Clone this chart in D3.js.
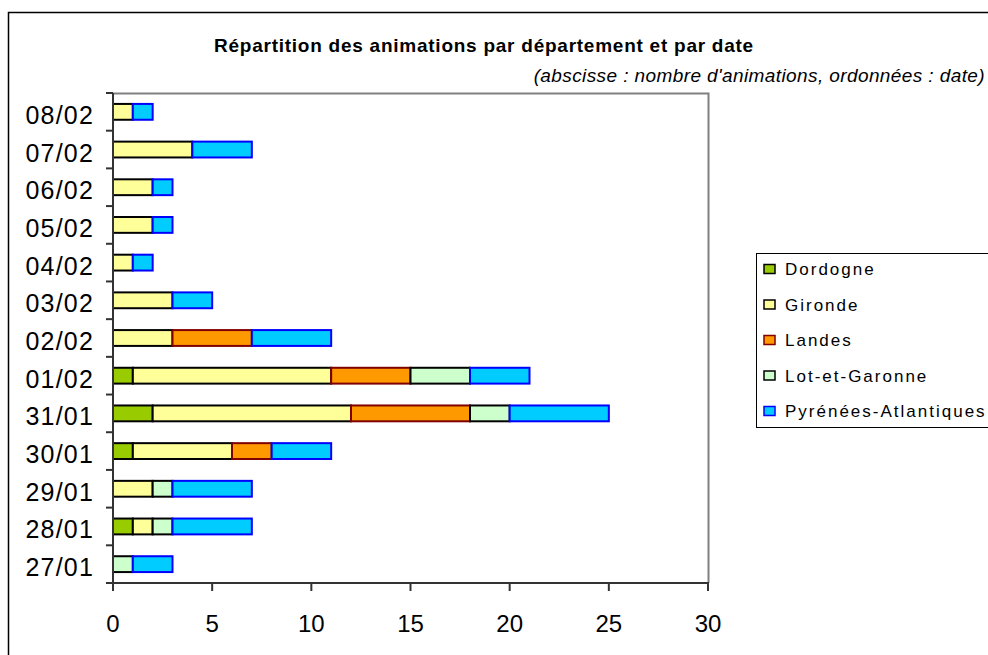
<!DOCTYPE html>
<html>
<head>
<meta charset="utf-8">
<script src="https://cdn.jsdelivr.net/npm/d3@7"></script>
<style>
  body { margin: 0; background: #fff; }
  text { font-family: "Liberation Sans", Arial, sans-serif; }
</style>
</head>
<body>
<div id="chart"></div>
<script>
const dates = ["27/01", "28/01", "29/01", "30/01", "31/01", "01/02", "02/02",
               "03/02", "04/02", "05/02", "06/02", "07/02", "08/02"];
const departments = ["Dordogne", "Gironde", "Landes", "Lot-et-Garonne", "Pyrénées-Atlantiques"];
const dordogne     = [0, 1, 0, 1, 2, 1, 0, 0, 0, 0, 0, 0, 0];
const gironde      = [0, 1, 2, 5, 10, 10, 3, 3, 1, 2, 2, 4, 1];
const landes       = [0, 0, 0, 2, 6, 4, 4, 0, 0, 0, 0, 0, 0];
const lotEtGaronne = [1, 1, 1, 0, 2, 3, 0, 0, 0, 0, 0, 0, 0];
const pyrenees     = [2, 4, 4, 3, 5, 3, 4, 2, 1, 1, 1, 3, 1];
const xTicks = [0, 5, 10, 15, 20, 25, 30];

const fills   = ["#99cc00", "#ffff99", "#ff9900", "#ccffcc", "#00ccff"];
const strokes = ["#000000", "#000000", "#800000", "#000000", "#0000ff"];

const width = 988, height = 655;
const plot = { left: 113, top: 93, right: 708, bottom: 583 };

const rows = dates.map((d, i) => ({
  date: d,
  "Dordogne": dordogne[i],
  "Gironde": gironde[i],
  "Landes": landes[i],
  "Lot-et-Garonne": lotEtGaronne[i],
  "Pyrénées-Atlantiques": pyrenees[i]
}));

const svg = d3.select("#chart")
  .append("svg")
  .attr("width", width)
  .attr("height", height);

// outer frame
svg.append("path")
  .attr("d", `M8.5,${height} V12.5 H${width}`)
  .attr("fill", "none")
  .attr("stroke", "#000")
  .attr("stroke-width", 1.5);

// titles
svg.append("text")
  .attr("x", 484)
  .attr("y", 52)
  .attr("text-anchor", "middle")
  .attr("font-size", "19px")
  .attr("font-weight", "bold")
  .attr("letter-spacing", "0.75px")
  .text("Répartition des animations par département et par date");

svg.append("text")
  .attr("x", 985)
  .attr("y", 82)
  .attr("text-anchor", "end")
  .attr("font-size", "19px")
  .attr("font-style", "italic")
  .attr("letter-spacing", "0.4px")
  .text("(abscisse : nombre d'animations, ordonnées : date)");

const x = d3.scaleLinear()
  .domain([0, 30])
  .range([plot.left, plot.right]);

const y = d3.scaleBand()
  .domain(dates.slice().reverse())
  .range([plot.top, plot.bottom])
  .paddingInner(0.58)
  .paddingOuter(0.29);

// plot area border (top and right)
svg.append("path")
  .attr("d", `M${plot.left},${plot.top + 0.5} H${plot.right + 0.5} V${plot.bottom}`)
  .attr("fill", "none")
  .attr("stroke", "#808080")
  .attr("stroke-width", 2);

// stacked bars
const stack = d3.stack().keys(departments);
const series = stack(rows);

const groups = svg.selectAll(".serie")
  .data(series)
  .enter()
  .append("g")
  .attr("class", "serie")
  .attr("fill", (d, i) => fills[i])
  .attr("stroke", (d, i) => strokes[i])
  .attr("stroke-width", 2);

groups.selectAll("rect")
  .data(d => d.filter(s => s[1] > s[0]))
  .enter()
  .append("rect")
  .attr("x", d => x(d[0]))
  .attr("y", d => y(d.data.date))
  .attr("width", d => x(d[1]) - x(d[0]))
  .attr("height", y.bandwidth());

// y axis
svg.append("line")
  .attr("x1", plot.left).attr("x2", plot.left)
  .attr("y1", plot.top).attr("y2", plot.bottom + 1)
  .attr("stroke", "#333").attr("stroke-width", 2);

svg.selectAll(".ytick")
  .data(d3.range(dates.length + 1))
  .enter()
  .append("line")
  .attr("x1", plot.left - 7).attr("x2", plot.left)
  .attr("y1", i => plot.top + i * (plot.bottom - plot.top) / dates.length)
  .attr("y2", i => plot.top + i * (plot.bottom - plot.top) / dates.length)
  .attr("stroke", "#333").attr("stroke-width", 2);

svg.selectAll(".ylabel")
  .data(dates)
  .enter()
  .append("text")
  .attr("x", 94)
  .attr("y", d => y(d) + y.bandwidth() / 2 + 3)
  .attr("dy", "0.36em")
  .attr("text-anchor", "end")
  .attr("font-size", "25px")
  .attr("letter-spacing", "1.2px")
  .text(d => d);

// x axis
svg.append("line")
  .attr("x1", plot.left - 7).attr("x2", plot.right + 1)
  .attr("y1", plot.bottom).attr("y2", plot.bottom)
  .attr("stroke", "#333").attr("stroke-width", 2);

svg.selectAll(".xtick")
  .data(xTicks)
  .enter()
  .append("line")
  .attr("x1", d => x(d)).attr("x2", d => x(d))
  .attr("y1", plot.bottom).attr("y2", plot.bottom + 8)
  .attr("stroke", "#333").attr("stroke-width", 2);

svg.selectAll(".xlabel")
  .data(xTicks)
  .enter()
  .append("text")
  .attr("x", d => x(d))
  .attr("y", 632)
  .attr("text-anchor", "middle")
  .attr("font-size", "24px")
  .text(d => d);

// legend
const legend = svg.append("g").attr("transform", "translate(756,253)");
legend.append("rect")
  .attr("x", 0.5).attr("y", 0.5)
  .attr("width", 260).attr("height", 174)
  .attr("fill", "#fff")
  .attr("stroke", "#000")
  .attr("stroke-width", 1);

const items = legend.selectAll(".item")
  .data(departments)
  .enter()
  .append("g")
  .attr("transform", (d, i) => `translate(8,${16 + i * 35.5})`);

items.append("rect")
  .attr("x", 0).attr("y", -4.5)
  .attr("width", 11).attr("height", 9)
  .attr("fill", (d, i) => fills[i])
  .attr("stroke", (d, i) => strokes[i])
  .attr("stroke-width", 1.5);

items.append("text")
  .attr("x", 21)
  .attr("y", 0)
  .attr("dy", "0.36em")
  .attr("font-size", "17px")
  .attr("letter-spacing", "2px")
  .text(d => d);
</script>
</body>
</html>
